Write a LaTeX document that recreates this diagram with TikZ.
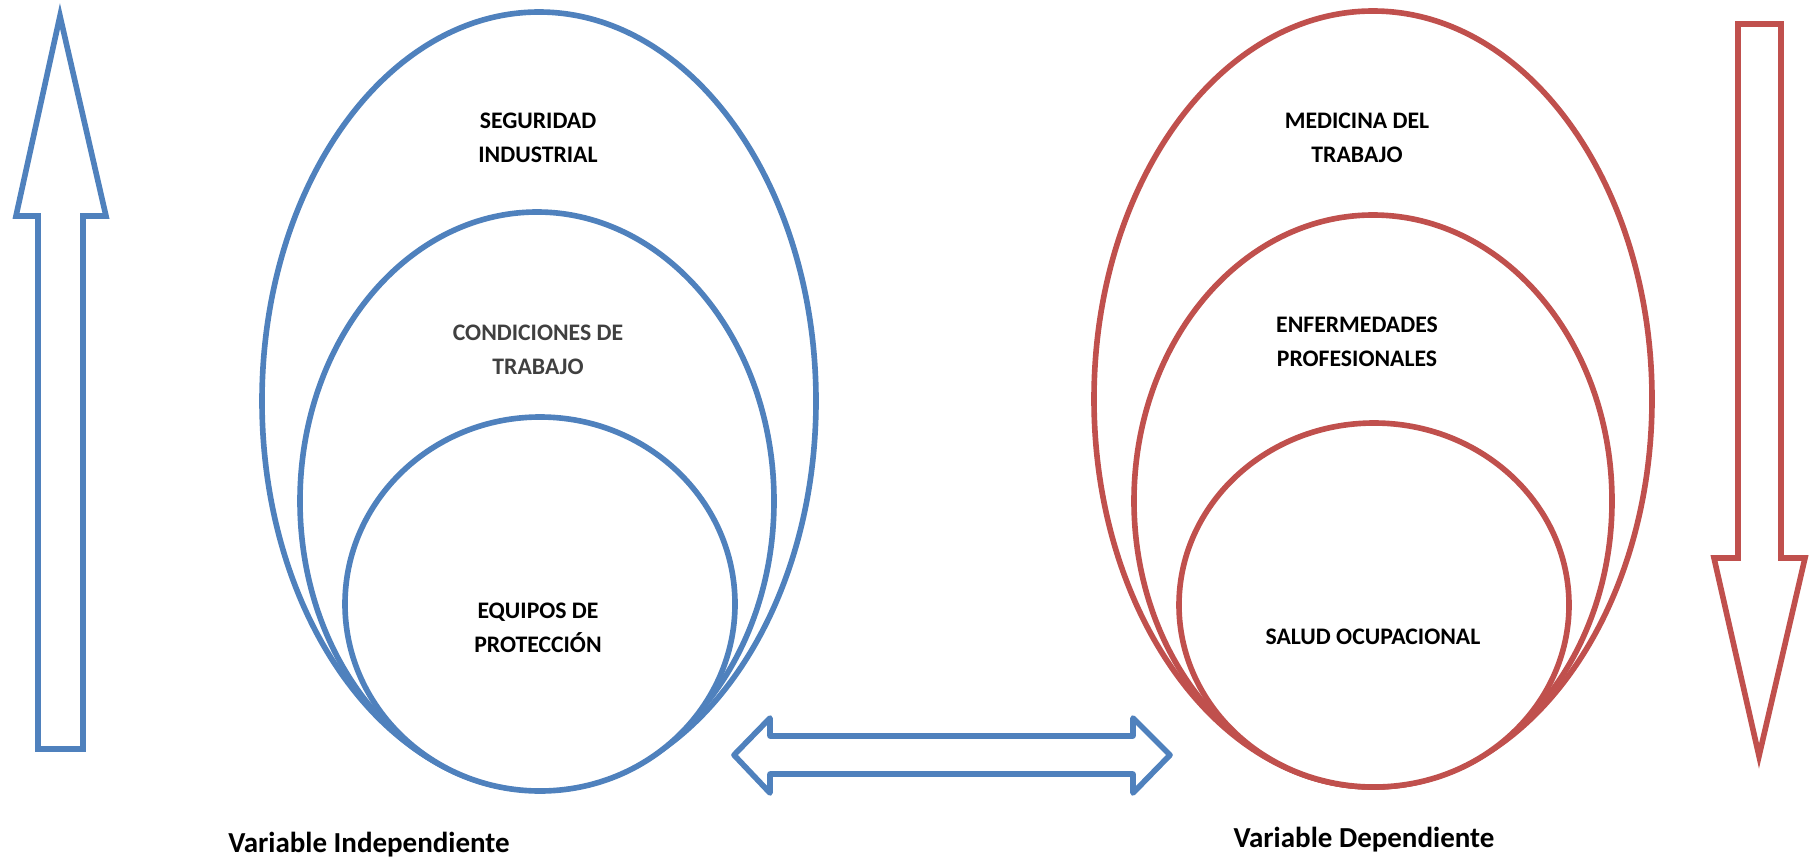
\documentclass[tikz,border=0pt]{standalone}
\usepackage{fontspec}
\setmainfont{Carlito}
\definecolor{azul}{HTML}{4F81BD}
\definecolor{rojo}{HTML}{C0504D}
\definecolor{gris}{HTML}{404040}
\tikzset{
  lbl/.style={font=\bfseries\fontsize{13.5}{19.2}\selectfont, align=center},
  var/.style={font=\bfseries\fontsize{16.5}{20}\selectfont},
  azulline/.style={draw=azul, line width=3.2pt},
  rojoline/.style={draw=rojo, line width=3.2pt},
}

\begin{document}
\begin{tikzpicture}[x=0.02cm,y=-0.02cm]
        \useasboundingbox (0,0) rectangle (1809,859);

        % variable independiente
        \draw[azulline, fill=white] (539,401) ellipse [x radius=277, y radius=389];
        \draw[azulline, fill=white] (537,501) ellipse [x radius=237, y radius=289];
        \draw[azulline, fill=white] (540,604) ellipse [x radius=195, y radius=187];

        \node[lbl] (seguridad) at (538,138) {SEGURIDAD\\INDUSTRIAL};
        \node[lbl, text=gris] (condiciones) at (538,350) {CONDICIONES DE\\TRABAJO};
        \node[lbl] (equipos) at (538,628) {EQUIPOS DE\\PROTECCIÓN};

        % variable dependiente
        \draw[rojoline, fill=white] (1373,399) ellipse [x radius=279, y radius=388];
        \draw[rojoline, fill=white] (1373,501) ellipse [x radius=239, y radius=286];
        \draw[rojoline, fill=white] (1374,605) ellipse [x radius=195, y radius=182];

        \node[lbl] (medicina) at (1357,138) {MEDICINA DEL\\TRABAJO};
        \node[lbl] (enfermedades) at (1357,342) {ENFERMEDADES\\PROFESIONALES};
        \node[lbl] (salud) at (1373,637) {SALUD OCUPACIONAL};

        % flechas
        \draw[azulline, line join=miter] (60,16) -- (106,216) -- (83,216) -- (83,749)
            -- (38,749) -- (38,216) -- (16,216) -- cycle;
        \draw[rojoline, line join=miter] (1738,24) -- (1781,24) -- (1781,558) -- (1805,558)
            -- (1759,756) -- (1714,558) -- (1738,558) -- cycle;
        \draw[azulline, line join=round] (734,755) -- (770,718) -- (770,736) -- (1133,736)
            -- (1133,718) -- (1170,755) -- (1133,793) -- (1133,774) -- (770,774)
            -- (770,793) -- cycle;

        \node[var] (varind) at (369,845) {Variable Independiente};
        \node[var] (vardep) at (1364,840) {Variable Dependiente};
    \end{tikzpicture}
\end{document}
